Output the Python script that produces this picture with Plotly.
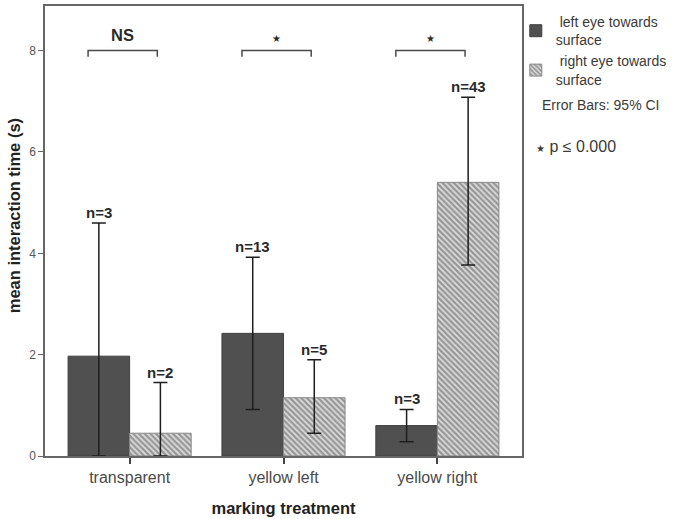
import plotly.graph_objects as go

# Mean interaction time per marking treatment, with 95% CI bounds
treatments = ["transparent", "yellow left", "yellow right"]
left_mean = [1.97, 2.42, 0.60]
left_upper = [4.60, 3.92, 0.92]
left_lower = [0.0, 0.92, 0.28]
left_n = ["n=3", "n=13", "n=3"]
right_mean = [0.45, 1.15, 5.40]
right_upper = [1.45, 1.90, 7.08]
right_lower = [0.0, 0.45, 3.77]
right_n = ["n=2", "n=5", "n=43"]
sig_labels = ["NS", "★", "★"]
sig_level = 8.0

font_main = "Liberation Sans, Arial, sans-serif"
err_style = dict(type="data", symmetric=False, color="#1e1e1e", thickness=1.5, width=7)

fig = go.Figure()

fig.add_trace(go.Bar(
    x=treatments, y=left_mean,
    name=" left eye towards<br>surface",
    marker=dict(color="#505050", line=dict(color="#404040", width=1)),
    error_y=dict(array=[u - m for u, m in zip(left_upper, left_mean)],
                 arrayminus=[m - l for m, l in zip(left_mean, left_lower)], **err_style),
))
fig.add_trace(go.Bar(
    x=treatments, y=right_mean,
    name=" right eye towards<br>surface",
    marker=dict(color="#d0d0d0",
                line=dict(color="#888888", width=1),
                pattern=dict(shape="\\", fgcolor="#505050", bgcolor="#dcdcdc",
                             size=4, solidity=0.55)),
    error_y=dict(array=[u - m for u, m in zip(right_upper, right_mean)],
                 arrayminus=[m - l for m, l in zip(right_mean, right_lower)], **err_style),
))

# n labels above the upper CI
n_font = dict(family=font_main, size=15, color="#2a2a2a", weight="bold")
for i in range(len(treatments)):
    fig.add_annotation(x=i - 0.2, y=left_upper[i], text=left_n[i], showarrow=False,
                       yanchor="bottom", yshift=0, font=n_font)
    fig.add_annotation(x=i + 0.2, y=right_upper[i], text=right_n[i], showarrow=False,
                       yanchor="bottom", yshift=0, font=n_font)

# significance brackets
for i, lab in enumerate(sig_labels):
    x0, x1 = i - 0.27, i + 0.18
    fig.add_shape(type="path",
                  path=f"M {x0} {sig_level - 0.12} L {x0} {sig_level} L {x1} {sig_level} L {x1} {sig_level - 0.12}",
                  line=dict(color="#4a4a4a", width=1.5))
    if lab == "NS":
        fig.add_annotation(x=(x0 + x1) / 2, y=sig_level, text=lab, showarrow=False,
                           yanchor="bottom", yshift=5,
                           font=dict(family=font_main, size=16.5, color="#2a2a2a", weight="bold"))
    else:
        fig.add_annotation(x=(x0 + x1) / 2, y=sig_level, text=lab, showarrow=False,
                           yanchor="bottom", yshift=5,
                           font=dict(family="DejaVu Sans", size=10, color="#2a2a2a"))

fig.add_annotation(xref="paper", yref="paper", x=1.037, y=0.781, text="Error Bars: 95% CI",
                   showarrow=False, xanchor="left", yanchor="middle",
                   font=dict(family=font_main, size=14, color="#3a3a3a"))
fig.add_annotation(xref="paper", yref="paper", x=1.026, y=0.688,
                   text="<span style='font-size:10px;font-family:DejaVu Sans'>★</span> p ≤ 0.000",
                   showarrow=False, xanchor="left", yanchor="middle",
                   font=dict(family=font_main, size=16, color="#3a3a3a"))

# y axis title placed as annotation (sits a bit above the plot centre)
fig.add_annotation(xref="paper", yref="paper", x=-0.065, y=0.535, text="mean interaction time (s)",
                   textangle=-90, showarrow=False, xanchor="center", yanchor="middle",
                   font=dict(family=font_main, size=16.5, color="#222222", weight="bold"))

fig.update_layout(
    width=685, height=519,
    margin=dict(l=45, r=163, t=4, b=63),
    paper_bgcolor="white", plot_bgcolor="white",
    barmode="group", bargap=0.2, bargroupgap=0,
    font=dict(family=font_main, color="#444444"),
    legend=dict(x=0.987, y=1.0, xanchor="left", yanchor="top", bgcolor="rgba(0,0,0,0)",
                font=dict(family=font_main, size=14, color="#3a3a3a"),
                itemwidth=30),
    xaxis=dict(range=[-0.55, 2.55], showline=True, linecolor="#666666", linewidth=1.5,
               mirror=True, ticks="outside", ticklen=6, tickcolor="#444444", tickwidth=1.5,
               tickfont=dict(size=16, color="#4a4a4a"), showgrid=False,
               title=dict(text="marking treatment", standoff=17,
                          font=dict(size=16.5, color="#222222", weight="bold"))),
    yaxis=dict(range=[0, 8.88], showline=True, linecolor="#666666", linewidth=1.5,
               mirror=True, ticks="outside", ticklen=5, tickcolor="#666666",
               tickvals=[0, 2, 4, 6, 8], tickfont=dict(size=12, color="#555555"),
               showgrid=False, zeroline=False),
)

fig.write_html("out.html", config={"displayModeBar": False},
               post_script="document.body.style.margin = '0px';")
